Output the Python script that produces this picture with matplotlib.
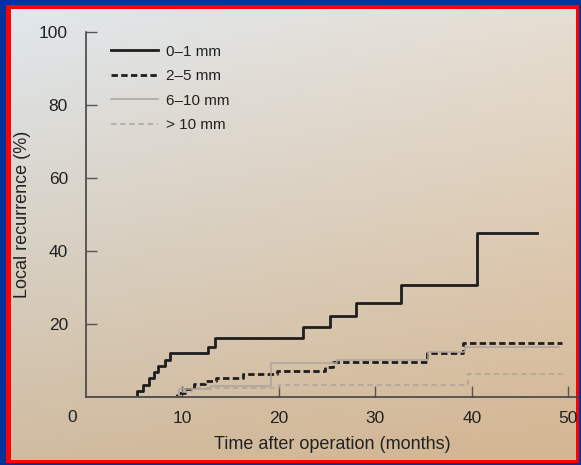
import numpy as np
import matplotlib.pyplot as plt
from matplotlib.patches import Rectangle

plt.rcParams['font.family'] = ['Liberation Sans', 'DejaVu Sans']

# months / cumulative local recurrence (%)
t_0_1 = [0, 5.25, 5.9, 6.5, 7.0, 7.5, 8.2, 8.7, 12.6, 13.4, 22.5, 25.3, 28.0, 32.7, 40.5, 46.8]
y_0_1 = [0, 1.7, 3.4, 5.1, 6.8, 8.5, 10.2, 12.1, 13.8, 16.2, 19.3, 22.2, 25.7, 30.7, 45.0, 45.0]

t_2_5 = [0, 9.4, 10.3, 11.2, 12.3, 13.5, 16.3, 19.8, 24.8, 25.6, 35.3, 39.1, 49.3]
y_2_5 = [0, 1.2, 2.2, 3.5, 4.4, 5.2, 6.3, 7.1, 8.3, 9.7, 12.0, 14.7, 14.7]

t_6_10 = [0, 9.6, 13.0, 19.2, 26.0, 35.5, 39.3, 49.0]
y_6_10 = [0, 2.2, 3.0, 9.2, 10.2, 12.4, 13.8, 13.8]

t_gt10 = [0, 9.8, 11.0, 20.0, 39.6, 49.8]
y_gt10 = [0, 1.5, 2.5, 3.3, 6.3, 6.3]

labels = ['0\u20131 mm', '2\u20135 mm', '6\u201310 mm', '> 10 mm']
xticks = [10, 20, 30, 40, 50]
yticks = [20, 40, 60, 80, 100]

W, H = 581, 465
fig = plt.figure(figsize=(W / 100, H / 100), dpi=100)
fig.patch.set_facecolor('#02339a')

# photo frame + paper background
bg = fig.add_axes([0, 0, 1, 1])
bg.axis('off')
bg.add_patch(Rectangle((6, 5), 573, 458, facecolor='#ff0000', edgecolor='none', zorder=1))
tl, tr = np.array([224, 231, 236]), np.array([230, 222, 210])
bl, br = np.array([208, 188, 160]), np.array([212, 182, 146])
u = np.linspace(0, 1, 60)[None, :, None]
v = np.linspace(0, 1, 60)[:, None, None]
grad = (tl * (1 - u) * (1 - v) + tr * u * (1 - v) + bl * (1 - u) * v + br * u * v) / 255
bg.imshow(grad, extent=(11, 576, 460, 10), aspect='auto',
          interpolation='bilinear', zorder=2)
bg.set_xlim(0, W)
bg.set_ylim(H, 0)

ax = fig.add_axes([86 / W, (H - 397) / H, 492 / W, 365 / H])
ax.set_facecolor('none')

ink = '#1e1e1e'
txt = '#222222'
ax.plot(t_0_1, y_0_1, drawstyle='steps-post', color=ink, lw=2.0, label=labels[0])
ax.plot(t_2_5, y_2_5, drawstyle='steps-post', color=ink, lw=2.0,
        dashes=(2.3, 1.2), label=labels[1])
ax.plot(t_6_10, y_6_10, drawstyle='steps-post', color='#aaa49b', lw=1.1, label=labels[2])
ax.plot(t_gt10, y_gt10, drawstyle='steps-post', color='#aaa49b', lw=1.1,
        dashes=(3.5, 2.5), label=labels[3])

ax.set_xlim(0, 51)
ax.set_ylim(0, 100)
ax.set_xticks(xticks)
ax.set_yticks(yticks)
ax.tick_params(direction='in', length=8, width=1, color='#555555',
               labelsize=12.5, labelcolor=txt)
ax.tick_params(axis='y', pad=13)
ax.tick_params(axis='x', pad=10)
for s in ['top', 'right']:
    ax.spines[s].set_visible(False)
for s in ['left', 'bottom']:
    ax.spines[s].set_color('#444444')
    ax.spines[s].set_linewidth(1.2)

ax.annotate('0', xy=(0, 0), xycoords='data', xytext=(-10, -15),
            textcoords='offset points', ha='center', va='center',
            fontsize=12.5, color=txt)

ax.set_xlabel('Time after operation (months)', fontsize=13, color=txt, labelpad=7)
ax.set_ylabel('Local recurrence (%)', fontsize=13, color=txt, labelpad=6)

ax.legend(loc='upper left', bbox_to_anchor=(0.05, 0.965), frameon=False,
          handlelength=3.1, handletextpad=0.55, labelspacing=0.68,
          fontsize=11, labelcolor=txt, borderaxespad=0, borderpad=0)

fig.savefig('out.png', dpi=100)
